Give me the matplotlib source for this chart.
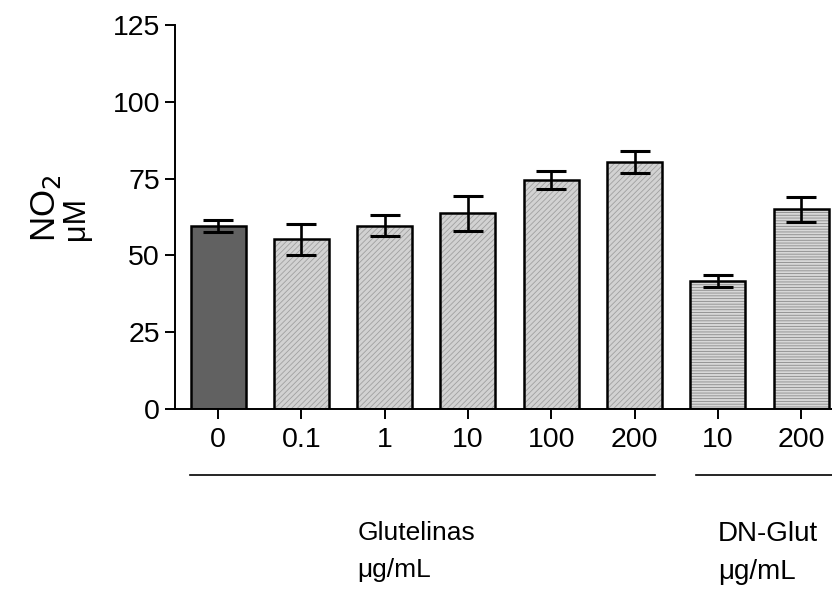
import matplotlib
matplotlib.use("Agg")
import matplotlib.pyplot as plt
import matplotlib.transforms as mtransforms
import numpy as np

plt.rcParams['font.family'] = ['Liberation Sans', 'DejaVu Sans']
plt.rcParams['hatch.linewidth'] = 0.6

# data
labels = ['0', '0.1', '1', '10', '100', '200', '10', '200']
means = [59.6, 55.2, 59.7, 63.7, 74.5, 80.4, 41.6, 65.0]
errs = [1.9, 5.0, 3.5, 5.6, 3.0, 3.5, 2.0, 4.0]
groups = ['gray', 'hatch', 'hatch', 'hatch', 'hatch', 'hatch', 'lines', 'lines']

fig = plt.figure(figsize=(8.32, 5.93), dpi=100)
ax = fig.add_axes([0.210, 0.310, 0.790, 0.648])

x = np.arange(len(means))
for i in range(len(means)):
    if groups[i] == 'gray':
        ax.bar(x[i], means[i], width=0.66, color='#616161', linewidth=0, zorder=2)
    elif groups[i] == 'hatch':
        ax.bar(x[i], means[i], width=0.66, color='#d2d2d2', edgecolor='#a0a0a0',
               hatch='//////', linewidth=0, zorder=2)
    else:
        ax.bar(x[i], means[i], width=0.66, color='#d8d8d8', edgecolor='#8a8a8a',
               hatch='------', linewidth=0, zorder=2)
ax.bar(x, means, width=0.66, color='none', edgecolor='black', linewidth=1.8, zorder=3)
ax.errorbar(x, means, yerr=errs, fmt='none', ecolor='black', elinewidth=1.9,
            capsize=10.5, capthick=2.2, zorder=4)

ax.set_ylim(0, 125)
ax.set_xlim(-0.52, 7.37)
ax.set_yticks([0, 25, 50, 75, 100, 125])
ax.set_xticks(x)
ax.set_xticklabels(labels)
ax.tick_params(axis='both', labelsize=20.5, length=7, width=1.4, direction='out')
ax.tick_params(axis='x', pad=6)
for s in ['top', 'right']:
    ax.spines[s].set_visible(False)
for s in ['left', 'bottom']:
    ax.spines[s].set_linewidth(1.4)

fig.text(0.055, 0.648, 'NO$_2$', rotation=90, fontsize=25, ha='center', va='center')
fig.text(0.091, 0.631, 'μM', rotation=90, fontsize=22, ha='center', va='center')

trans = mtransforms.blended_transform_factory(ax.transData, ax.transAxes)
ax.plot([-0.34, 5.24], [-0.172, -0.172], color='black', lw=1.2, transform=trans, clip_on=False)
ax.plot([5.74, 7.4], [-0.172, -0.172], color='black', lw=1.2, transform=trans, clip_on=False)
ax.text(1.67, -0.29, 'Glutelinas\nμg/mL', transform=trans, fontsize=19, ha='left',
        va='top', linespacing=1.7)
ax.text(6.0, -0.29, 'DN-Glut\nμg/mL', transform=trans, fontsize=20, ha='left',
        va='top', linespacing=1.6)

fig.savefig('out.png', dpi=100)
